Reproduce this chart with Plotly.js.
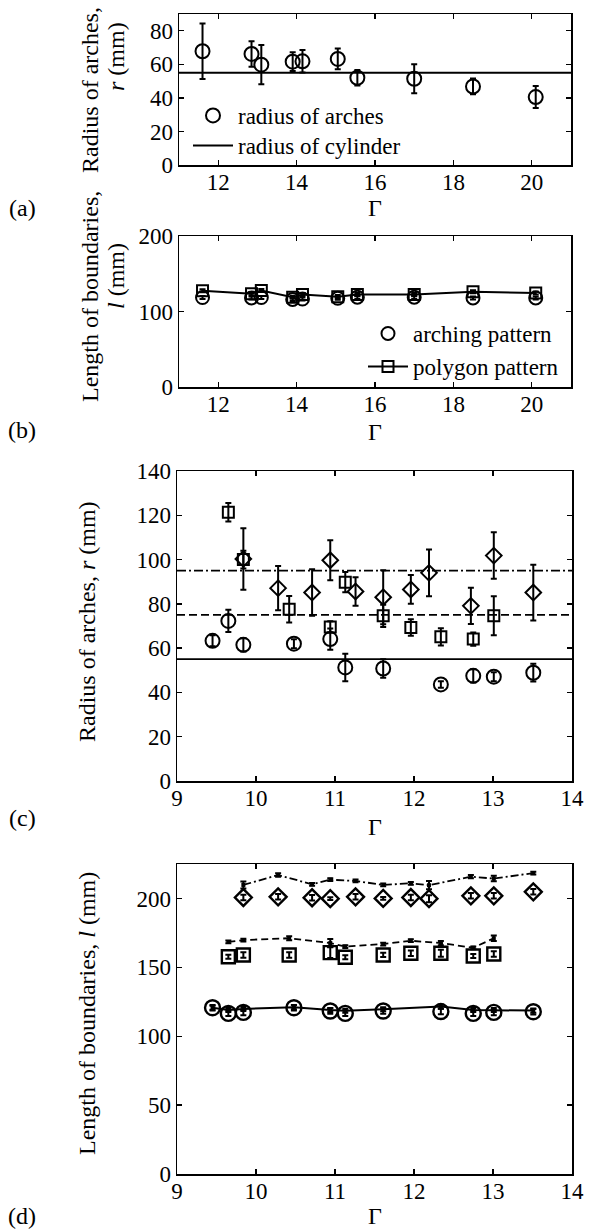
<!DOCTYPE html>
<html><head><meta charset="utf-8">
<script src="https://cdn.plot.ly/plotly-3.0.1.min.js"></script>
<style>body{margin:0;background:#fff}#chart{width:595px;height:1231px}</style>
</head><body><div id="chart"></div>
<script>
// ---------- Panel (a) ----------
const gammaA = [11.6, 12.85, 13.1, 13.9, 14.15, 15.05, 15.55, 17.0, 18.5, 20.1];
const radiusA = [67.8, 66.2, 59.8, 61.6, 61.8, 63.2, 52.0, 51.4, 46.8, 40.5];
const radiusAErr = [16.5, 7.6, 11.7, 5.6, 6.7, 6.2, 4.6, 8.6, 4.7, 6.6];
const cylinderRadius = 55;

// ---------- Panel (b) ----------
const lengthArching = [118.5, 118, 118.5, 116, 116.5, 117.5, 119, 119, 118, 118];
const lengthArchingErr = [2, 2, 2, 2, 2, 2, 2, 2, 2, 2];
const lengthPolygon = [127.4, 123.5, 127.7, 119, 122.5, 119.7, 122.5, 122.5, 126.3, 124.5];
const lengthPolygonErr = [2, 2, 2, 2, 2, 2, 2, 2, 2, 2];

// ---------- Panel (c) ----------
const gammaCircle = [9.45, 9.65, 9.84, 10.48, 10.94, 11.13, 11.61, 12.34, 12.75, 13.01, 13.51];
const radiusCircle = [63.3, 72.3, 61.5, 62.0, 64.1, 51.3, 50.8, 43.6, 47.5, 47.1, 48.9];
const radiusCircleErr = [2.5, 5, 3, 2, 4.8, 6.2, 4.2, 1.5, 3, 2, 4];
const gammaSquare = [9.65, 9.84, 10.42, 10.94, 11.13, 11.61, 11.96, 12.34, 12.75, 13.01];
const radiusSquare = [121.4, 100.0, 77.6, 69.6, 89.8, 74.6, 69.3, 65.1, 64.1, 74.6];
const radiusSquareErr = [4.2, 4, 6, 2.5, 4.6, 5, 3.7, 3.9, 3, 8.8];
const gammaDiamond = [9.84, 10.28, 10.71, 10.94, 11.26, 11.61, 11.96, 12.19, 12.72, 13.01, 13.51];
const radiusDiamond = [100.3, 87.1, 85.1, 99.7, 85.6, 83.0, 86.5, 94.0, 79.1, 101.8, 85.1];
const radiusDiamondErr = [13.9, 10, 10.5, 9, 6.4, 12.2, 6.5, 10.6, 8.2, 10.5, 12.6];
const referenceRadii = [55, 75, 95];

// ---------- Panel (d) ----------
const lenCircle = [120.7, 116.6, 117.3, 120.7, 118.3, 116.6, 118.3, 117.9, 116.6, 117.3, 117.8];
const lenCircleErr = [2, 2, 2, 2, 2, 2, 2, 2, 2, 2, 2];
const lenCircleLine = [120.7, 119.0, 119.8, 121.0, 119.0, 118.5, 119.6, 121.5, 119.0, 119.0, 118.6];
const lenCircleLineErr = [1.5, 1.5, 1.5, 1.5, 1.5, 1.5, 1.5, 1.5, 1.5, 1.5, 1.5];
const lenSquare = [157.7, 159.0, 159.0, 160.7, 157.3, 159.0, 160.2, 160.2, 158.2, 159.7];
const lenSquareErr = [1.5, 2, 2, 4, 1.5, 1.5, 2, 2.5, 1.5, 2];
const lenSquareLine = [168.4, 169.8, 171.1, 167.6, 165.0, 166.9, 169.3, 167.6, 164.2, 171.1];
const lenSquareLineErr = [1, 1, 1.5, 3, 1, 1, 1, 1.5, 1, 2];
const lenDiamond = [200.7, 201.2, 200.5, 199.8, 201.2, 200.0, 200.7, 199.8, 201.9, 201.9, 204.8];
const lenDiamondErr = [2, 2, 2, 1, 2, 1, 2, 2.5, 2, 2, 2];
const lenDiamondLine = [209.8, 217.0, 210.3, 213.6, 212.7, 209.8, 211.0, 209.6, 215.8, 214.4, 218.4];
const lenDiamondLineErr = [2.5, 1.2, 1, 1, 1, 1, 1, 3, 1.2, 2, 1];

// ---------- Layout helpers ----------
const W = 595, H = 1231;
const FONT = 'Liberation Serif, Times New Roman, serif';
const px = v => v / W;
const py = v => 1 - v / H;

function axisBase(extra) {
  return Object.assign({
    showline: true, linecolor: 'black', linewidth: 1.5, mirror: 'ticks',
    ticks: 'inside', ticklen: 5, tickwidth: 1.3, tickcolor: 'black',
    showgrid: false, zeroline: false, fixedrange: true,
    tickfont: {family: FONT, size: 23, color: 'black'}
  }, extra);
}
const xAxis = extra => axisBase(Object.assign({ticklabelstandoff: -4}, extra));

const errBar = arr => ({type: 'data', array: arr, visible: true, color: 'black', thickness: 2, width: 3});
const openMarker = (symbol, size, lw) => ({symbol: symbol + '-open', size: size, color: 'black', line: {width: lw || 2, color: 'black'}});
const legendBox = (x, y) => ({x: px(x), y: py(y), xanchor: 'left', yanchor: 'top', bgcolor: 'rgba(0,0,0,0)',
  itemwidth: 40, tracegroupgap: 0, font: {family: FONT, size: 23, color: 'black'}});

const xRangeAB = [11, 21];
const xRangeCD = [9, 14];

const traces = [
  // (a)
  {x: gammaA, y: radiusA, error_y: errBar(radiusAErr), mode: 'markers', marker: openMarker('circle', 14),
   name: 'radius of arches', xaxis: 'x', yaxis: 'y', legend: 'legend'},
  {x: xRangeAB, y: xRangeAB.map(() => cylinderRadius), mode: 'lines', line: {color: 'black', width: 2},
   name: 'radius of cylinder', xaxis: 'x', yaxis: 'y', legend: 'legend3'},
  // (b)
  {x: gammaA, y: lengthArching, error_y: errBar(lengthArchingErr), mode: 'markers', marker: openMarker('circle', 13),
   name: 'arching pattern', xaxis: 'x2', yaxis: 'y2', legend: 'legend2'},
  {x: gammaA, y: lengthPolygon, error_y: errBar(lengthPolygonErr), mode: 'lines+markers', marker: openMarker('square', 11),
   line: {color: 'black', width: 2}, name: 'polygon pattern', xaxis: 'x2', yaxis: 'y2', legend: 'legend4'},
  // (c) reference lines
  {x: xRangeCD, y: xRangeCD.map(() => referenceRadii[0]), mode: 'lines', line: {color: 'black', width: 1.8},
   xaxis: 'x3', yaxis: 'y3', showlegend: false},
  {x: xRangeCD, y: xRangeCD.map(() => referenceRadii[1]), mode: 'lines', line: {color: 'black', width: 1.8, dash: '8px,4px'},
   xaxis: 'x3', yaxis: 'y3', showlegend: false},
  {x: xRangeCD, y: xRangeCD.map(() => referenceRadii[2]), mode: 'lines', line: {color: 'black', width: 1.8, dash: '9px,3px,2px,3px'},
   xaxis: 'x3', yaxis: 'y3', showlegend: false},
  // (c) data
  {x: gammaCircle, y: radiusCircle, error_y: errBar(radiusCircleErr), mode: 'markers', marker: openMarker('circle', 14),
   xaxis: 'x3', yaxis: 'y3', showlegend: false},
  {x: gammaSquare, y: radiusSquare, error_y: errBar(radiusSquareErr), mode: 'markers', marker: openMarker('square', 11),
   xaxis: 'x3', yaxis: 'y3', showlegend: false},
  {x: gammaDiamond, y: radiusDiamond, error_y: errBar(radiusDiamondErr), mode: 'markers', marker: openMarker('diamond', 12),
   xaxis: 'x3', yaxis: 'y3', showlegend: false},
  // (d) lines
  {x: gammaCircle, y: lenCircleLine, error_y: errBar(lenCircleLineErr), mode: 'lines+markers',
   marker: {symbol: 'square', size: 4, color: 'black'}, line: {color: 'black', width: 2},
   xaxis: 'x4', yaxis: 'y4', showlegend: false},
  {x: gammaSquare, y: lenSquareLine, error_y: errBar(lenSquareLineErr), mode: 'lines+markers',
   marker: {symbol: 'square', size: 4, color: 'black'}, line: {color: 'black', width: 1.8, dash: '7px,4px'},
   xaxis: 'x4', yaxis: 'y4', showlegend: false},
  {x: gammaDiamond, y: lenDiamondLine, error_y: errBar(lenDiamondLineErr), mode: 'lines+markers',
   marker: {symbol: 'square', size: 4, color: 'black'}, line: {color: 'black', width: 1.8, dash: '8px,3px,2px,3px'},
   xaxis: 'x4', yaxis: 'y4', showlegend: false},
  // (d) markers
  {x: gammaCircle, y: lenCircle, error_y: errBar(lenCircleErr), mode: 'markers', marker: openMarker('circle', 15, 2.4),
   xaxis: 'x4', yaxis: 'y4', showlegend: false},
  {x: gammaSquare, y: lenSquare, error_y: errBar(lenSquareErr), mode: 'markers', marker: openMarker('square', 13, 2.4),
   xaxis: 'x4', yaxis: 'y4', showlegend: false},
  {x: gammaDiamond, y: lenDiamond, error_y: errBar(lenDiamondErr), mode: 'markers', marker: openMarker('diamond', 13, 2.4),
   xaxis: 'x4', yaxis: 'y4', showlegend: false}
];

const ann = (text, x, y, angle, extra) => Object.assign({
  text: text, x: px(x), y: py(y), xref: 'paper', yref: 'paper', showarrow: false,
  textangle: angle || 0, xanchor: 'center', yanchor: 'middle',
  font: {family: FONT, size: 24, color: 'black'}
}, extra || {});

const layout = {
  width: W, height: H, margin: {l: 0, r: 0, t: 0, b: 0},
  paper_bgcolor: 'white', plot_bgcolor: 'white', showlegend: true,
  xaxis: xAxis({domain: [px(179), px(571)], range: xRangeAB, dtick: 2, tick0: 12, anchor: 'y'}),
  yaxis: axisBase({domain: [py(165), py(14)], range: [0, 90], dtick: 20, anchor: 'x'}),
  xaxis2: xAxis({domain: [px(179), px(571)], range: xRangeAB, dtick: 2, tick0: 12, anchor: 'y2'}),
  yaxis2: axisBase({domain: [py(387), py(236)], range: [0, 200], dtick: 100, anchor: 'x2'}),
  xaxis3: xAxis({domain: [px(177), px(572)], range: xRangeCD, dtick: 1, anchor: 'y3'}),
  yaxis3: axisBase({domain: [py(781), py(471)], range: [0, 140], dtick: 20, anchor: 'x3'}),
  xaxis4: xAxis({domain: [px(177), px(572)], range: xRangeCD, dtick: 1, anchor: 'y4'}),
  yaxis4: axisBase({domain: [py(1174), py(864)], range: [0, 225], dtick: 50, anchor: 'x4'}),
  legend: legendBox(188, 94),
  legend3: legendBox(188, 124),
  legend2: legendBox(363, 312),
  legend4: legendBox(363, 345),
  annotations: [
    ann('Radius of arches,', 90, 90, -90),
    ann('<i>r</i> (mm)', 116, 57, -90),
    ann('Γ', 375, 208, 0),
    ann('(a)', 22, 208, 0),
    ann('Length of boundaries,', 90, 297, -90),
    ann('<i>l</i> (mm)', 116, 276, -90),
    ann('Γ', 375, 432, 0),
    ann('(b)', 22, 430, 0),
    ann('Radius of arches, <i>r</i> (mm)', 87, 622, -90),
    ann('Γ', 375, 827, 0),
    ann('(c)', 22, 818, 0),
    ann('Length of boundaries, <i>l</i> (mm)', 87, 1014, -90),
    ann('Γ', 375, H, 0, {yanchor: 'bottom'}),
    ann('(d)', 22, 1216, 0)
  ]
};
layout.annotations[12].y = 0;

Plotly.newPlot('chart', traces, layout, {staticPlot: true, displayModeBar: false});
</script>
</body></html>
